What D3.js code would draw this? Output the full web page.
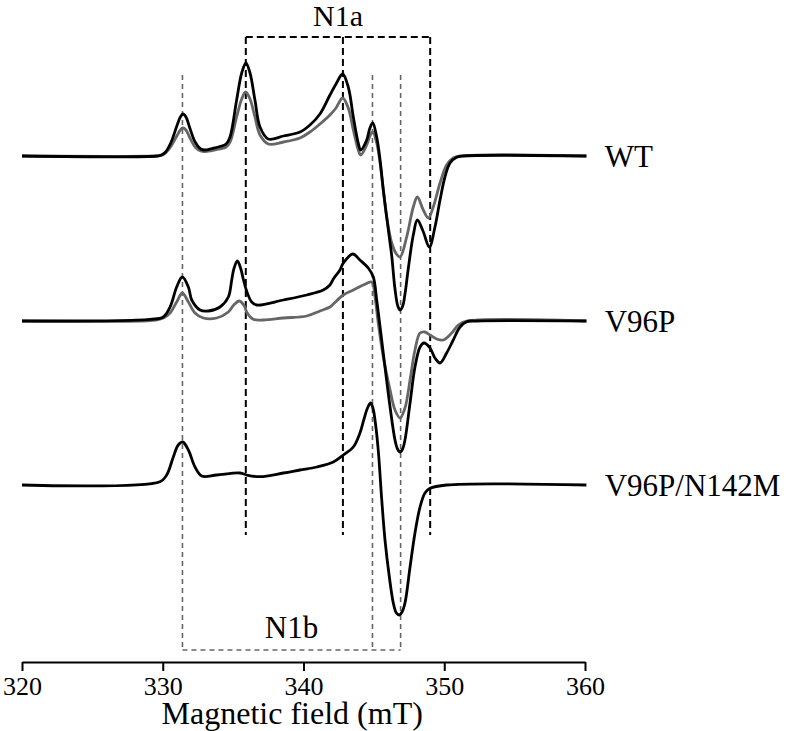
<!DOCTYPE html>
<html>
<head>
<meta charset="utf-8">
<script src="https://cdn.jsdelivr.net/npm/d3@7"></script>
<style>
  html, body { margin: 0; padding: 0; background: #fff; }
  svg { display: block; }
  text { font-family: "Liberation Serif", "Times New Roman", serif; fill: #000; }
</style>
</head>
<body>
<svg id="chart" width="798" height="731"></svg>
<script>
// ---------------- DATA ----------------
const xTicks = [320, 330, 340, 350, 360];
const xLabel = "Magnetic field (mT)";
const sampleNames = ["WT", "V96P", "V96P/N142M"];
const sampleOffsets = [50.6, 34.1, 17.7];   // vertical stacking offsets (a.u.)

// [field (mT), intensity (a.u.)]
const wtBlack = [[320.0,0],[329.6,0],[329.9,0.1],[330.2,0.4],[330.6,1.4],[331.0,3.0],[331.25,3.9],[331.44,4.2],[331.65,3.9],[331.9,2.9],[332.3,1.4],[332.7,0.7],[333.0,0.6],[333.5,0.75],[334.07,0.95],[334.5,1.2],[334.78,1.9],[335.25,5.6],[335.61,8.3],[335.91,9.3],[336.2,8.3],[336.55,5.6],[336.91,2.9],[337.5,1.7],[338.57,2.0],[339.75,2.4],[340.46,3.1],[341.17,4.2],[341.88,6.1],[342.31,7.2],[342.78,8.2],[343.18,6.9],[343.54,3.9],[343.89,1.3],[344.06,0.6],[344.49,1.6],[344.72,2.8],[344.92,3.3],[345.20,1.9],[345.44,-0.4],[345.67,-3.4],[345.91,-6.1],[346.15,-8.7],[346.27,-10.0],[346.50,-13.3],[346.7,-15.0],[346.86,-15.4],[347.05,-15.0],[347.21,-13.8],[347.45,-11.2],[347.80,-7.9],[348.09,-6.4],[348.49,-7.5],[348.94,-9.1],[349.34,-7.1],[349.70,-4.4],[350.05,-2.1],[350.41,-0.7],[350.88,-0.13],[351.35,0],[360.1,0]];

const wtGray = [[320.0,0],[329.6,0],[329.9,0.05],[330.2,0.3],[330.6,1.0],[331.0,2.0],[331.25,2.6],[331.42,2.8],[331.65,2.6],[331.9,1.9],[332.3,0.9],[332.7,0.5],[333.0,0.45],[333.5,0.55],[334.07,0.7],[334.5,0.9],[334.78,1.4],[335.25,3.9],[335.61,5.7],[335.89,6.4],[336.2,5.7],[336.55,3.9],[336.91,2.1],[337.5,1.2],[338.57,1.4],[339.75,1.8],[340.46,2.4],[341.17,3.2],[341.88,4.1],[342.31,4.8],[342.78,5.8],[343.18,4.8],[343.54,2.6],[343.89,0.6],[344.06,0.1],[344.49,1.1],[344.72,2.0],[344.92,2.4],[345.20,1.3],[345.44,-0.7],[345.67,-3.4],[345.91,-6.1],[346.27,-8.7],[346.6,-9.8],[346.86,-10.1],[347.33,-8.1],[347.80,-5.1],[348.09,-4.1],[348.51,-5.4],[348.87,-6.2],[349.22,-5.1],[349.70,-2.7],[350.17,-0.9],[350.64,-0.2],[351.12,0],[360.1,0]];

const v96pBlack = [[320.0,0],[329.09,0.17],[330.04,0.4],[330.52,1.4],[330.99,3.4],[331.39,4.4],[331.82,3.4],[332.06,2.1],[332.65,1.1],[333.24,1.0],[334.07,1.4],[334.66,2.4],[334.90,4.1],[335.05,5.2],[335.30,6.0],[335.55,5.2],[335.72,4.2],[335.96,3.0],[336.32,1.9],[336.68,1.6],[338.57,2.1],[340.23,2.6],[341.40,3.1],[341.88,3.6],[342.12,4.2],[342.59,5.1],[342.83,5.8],[343.50,6.7],[344.01,6.1],[344.60,5.3],[344.96,4.4],[345.20,2.1],[345.44,-0.6],[345.79,-4.6],[346.15,-8.6],[346.50,-11.9],[346.68,-12.8],[346.86,-13.1],[347.04,-12.8],[347.21,-11.9],[347.57,-8.2],[347.92,-4.6],[348.28,-2.6],[348.56,-2.2],[348.99,-2.7],[349.34,-3.7],[349.70,-4.2],[350.17,-3.2],[350.64,-1.9],[351.12,-0.6],[351.60,-0.07],[352.31,0],[360.1,0]];

const v96pGray = [[320.0,0],[329.5,0.1],[330.04,0.3],[330.52,0.8],[330.99,1.9],[331.39,2.8],[331.82,1.9],[332.29,0.8],[332.88,0.3],[333.83,0.3],[334.66,0.9],[335.05,1.6],[335.44,2.0],[335.8,1.5],[335.96,0.9],[336.43,0.17],[337.14,0.1],[338.57,0.3],[340.23,0.5],[341.17,1.0],[341.88,1.4],[342.12,1.7],[342.83,2.6],[343.54,3.1],[344.25,3.6],[344.85,3.9],[345.08,2.4],[345.31,-0.2],[345.67,-3.6],[346.15,-6.9],[346.50,-8.9],[346.86,-9.7],[347.21,-8.7],[347.57,-5.9],[347.92,-2.9],[348.28,-1.2],[348.63,-1.1],[348.99,-1.4],[349.46,-1.8],[349.93,-1.9],[350.53,-1.2],[351.0,-0.4],[351.6,0],[360.1,0]];

const n142mBlack = [[320.0,0],[329.8,0.33],[330.28,1.0],[330.75,2.8],[331.10,4.0],[331.42,4.3],[331.82,3.5],[332.29,1.8],[332.77,0.9],[333.83,1.0],[335.49,1.2],[335.96,1.0],[336.91,0.83],[338.57,1.2],[339.75,1.5],[340.94,1.8],[342.12,2.3],[342.83,3.0],[343.54,3.8],[344.01,5.2],[344.3,6.6],[344.55,7.7],[344.77,8.2],[344.95,7.6],[345.08,6.5],[345.31,3.5],[345.56,-1.5],[345.79,-5.5],[346.10,-9.2],[346.38,-11.8],[346.6,-12.8],[346.81,-13.0],[347.0,-12.7],[347.21,-11.8],[347.57,-8.2],[347.92,-4.8],[348.28,-2.2],[348.63,-0.8],[348.99,-0.33],[350.17,0],[360.1,0]];

// reference markers (mT)
const n1aFields = [335.9, 342.8, 349.0];
const n1bFields = [331.4, 344.9, 346.9];
const n1aSpan = [12.7, 62.5];   // a.u. extent of N1a markers
const n1bSpan = [1.2, 58.7];    // a.u. extent of N1b markers
const boxLabels = ["N1a", "N1b"];

// ---------------- CHART ----------------
const svg = d3.select("#chart");
const x = d3.scaleLinear().domain([320, 360]).range([22, 585]);
const y = d3.scaleLinear().domain([0, 66.2]).range([662, 0]);

const spectra = [
  { data: wtGray,    off: sampleOffsets[0], color: "#666666" },
  { data: wtBlack,   off: sampleOffsets[0], color: "#000000" },
  { data: v96pGray,  off: sampleOffsets[1], color: "#666666" },
  { data: v96pBlack, off: sampleOffsets[1], color: "#000000" },
  { data: n142mBlack,off: sampleOffsets[2], color: "#000000" }
];

// N1b (gray) markers
const gN1b = svg.append("g")
  .attr("stroke", "#666").attr("stroke-width", 1.6).attr("stroke-dasharray", "5,4").attr("fill", "none");
n1bFields.forEach(f => {
  gN1b.append("line").attr("x1", x(f)).attr("x2", x(f)).attr("y1", y(n1bSpan[1])).attr("y2", y(n1bSpan[0]));
});
gN1b.append("line").attr("x1", x(n1bFields[0])).attr("x2", x(n1bFields[2]))
  .attr("y1", y(n1bSpan[0])).attr("y2", y(n1bSpan[0]));

// N1a (black) markers
const gN1a = svg.append("g")
  .attr("stroke", "#000").attr("stroke-width", 2).attr("stroke-dasharray", "7,4").attr("fill", "none");
n1aFields.forEach(f => {
  gN1a.append("line").attr("x1", x(f)).attr("x2", x(f)).attr("y1", y(n1aSpan[1])).attr("y2", y(n1aSpan[0]));
});
gN1a.append("line").attr("x1", x(n1aFields[0])).attr("x2", x(n1aFields[2]))
  .attr("y1", y(n1aSpan[1])).attr("y2", y(n1aSpan[1]));

// spectra
const line = d3.line().curve(d3.curveCatmullRom.alpha(0.5));
spectra.forEach(s => {
  svg.append("path")
    .attr("d", line(s.data.map(d => [x(d[0]), y(d[1] + s.off)])))
    .attr("fill", "none")
    .attr("stroke", s.color)
    .attr("stroke-width", 2.8)
    .attr("stroke-linejoin", "round");
});

// box labels
svg.append("text").text(boxLabels[0])
  .attr("x", x((n1aFields[0] + n1aFields[2]) / 2)).attr("y", y(n1aSpan[1]) - 11)
  .attr("text-anchor", "middle").attr("font-size", 30);
svg.append("text").text(boxLabels[1])
  .attr("x", x((n1bFields[0] + n1bFields[2]) / 2)).attr("y", y(n1bSpan[0]) - 12)
  .attr("text-anchor", "middle").attr("font-size", 31);

// sample labels
sampleNames.forEach((n, i) => {
  svg.append("text").text(n)
    .attr("x", x(361.4)).attr("y", y(sampleOffsets[i]) + 11)
    .attr("font-size", 31);
});

// axis
const axis = d3.axisBottom(x).tickValues(xTicks).tickSize(9).tickSizeOuter(0).tickPadding(6);
const gAxis = svg.append("g").attr("transform", `translate(0,${y(0)})`).call(axis);
gAxis.select(".domain").attr("stroke", "#000").attr("stroke-width", 2);
gAxis.selectAll(".tick line").attr("stroke", "#000").attr("stroke-width", 2);
gAxis.selectAll(".tick text")
  .attr("font-family", "Liberation Serif, Times New Roman, serif")
  .attr("font-size", 26).attr("fill", "#000");

svg.append("text").text(xLabel)
  .attr("x", x(339.2)).attr("y", 724)
  .attr("text-anchor", "middle").attr("font-size", 32);
</script>
</body>
</html>
